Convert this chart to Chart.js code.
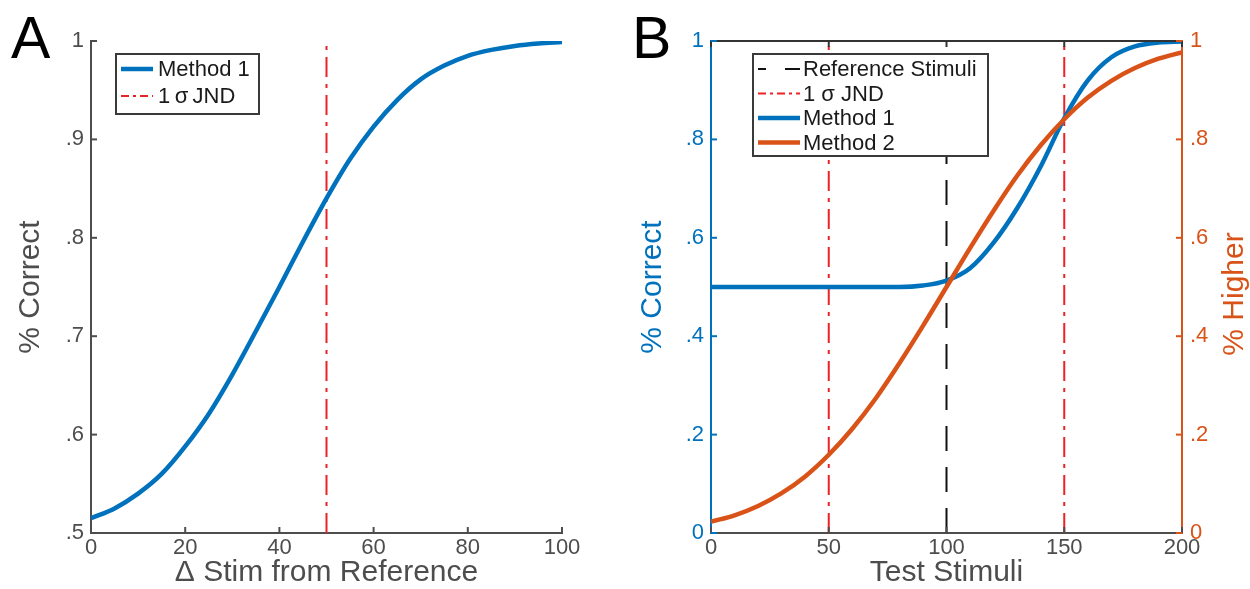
<!DOCTYPE html>
<html>
<head>
<meta charset="utf-8">
<script src="https://cdn.jsdelivr.net/npm/chart.js@4.4.0/dist/chart.umd.min.js"></script>
<style>
  html, body { margin: 0; padding: 0; background: #fff; }
  #wrap { position: relative; width: 1250px; height: 589px; overflow: hidden; }
  .panel { position: absolute; top: 0; width: 625px; height: 589px; }
  .letter { position: absolute; top: 9px; font-size: 59px; line-height: 1; color: #000;
            font-family: "Liberation Sans", Arial, Helvetica, sans-serif; }
</style>
</head>
<body>
<div id="wrap">
  <div class="panel" style="left:0"><canvas id="chartA" width="625" height="589"></canvas></div>
  <div class="panel" style="left:625px"><canvas id="chartB" width="625" height="589"></canvas></div>
  <div class="letter" style="left:11px">A</div>
  <div class="letter" style="left:632px">B</div>
</div>
<script>
// panel A data
const stimA = [0, 5, 10, 15, 20, 25, 30, 35, 40, 45, 50, 55, 60, 65, 70, 75, 80, 85, 90, 95, 100];
const method1A = [0.515, 0.525, 0.540, 0.560, 0.588, 0.621, 0.661, 0.705, 0.750, 0.796, 0.840, 0.880, 0.913, 0.940, 0.961, 0.975, 0.985, 0.991, 0.995, 0.9975, 0.999];
const jndA = [50];
const xTicksA = [0, 20, 40, 60, 80, 100];
const yTicksA = [0.5, 0.6, 0.7, 0.8, 0.9, 1];

// panel B data
const stimB = [0, 10, 20, 30, 40, 50, 60, 70, 80, 90, 100, 110, 120, 130, 140, 150, 160, 170, 180, 190, 200];
const method1B = [0.5, 0.5, 0.5, 0.5, 0.5, 0.5, 0.5, 0.5, 0.5, 0.503, 0.513, 0.538, 0.59, 0.66, 0.745, 0.843, 0.92, 0.967, 0.989, 0.997, 0.999];
const method2B = [0.023, 0.036, 0.055, 0.081, 0.115, 0.159, 0.212, 0.274, 0.345, 0.421, 0.5, 0.579, 0.655, 0.726, 0.788, 0.841, 0.885, 0.919, 0.945, 0.964, 0.977];
const refB = [100];
const jndB = [50, 150];
const xTicksB = [0, 50, 100, 150, 200];
const yTicksB = [0, 0.2, 0.4, 0.6, 0.8, 1];

const FONT = '"Liberation Sans", Arial, Helvetica, sans-serif';
const GRAY = '#4d4d4d';
const BLUE = '#0072bd';
const ORANGE = '#d95319';
const RED = '#ec2227';
const DASHDOT = [20, 7, 4, 7];
const DASHED = [25, 16];

function pts(xs, ys) {
  return xs.map((x, i) => ({ x: x, y: ys[i] }));
}

// vertical lines at each x, split by gaps
function vlines(xs, y0, y1) {
  const out = [];
  xs.forEach((x, i) => {
    if (i > 0) out.push({ x: x, y: null });
    out.push({ x: x, y: y0 }, { x: x, y: y1 });
  });
  return out;
}

function fmt(v) {
  if (v === 0) return '0';
  if (v === 1) return '1';
  return String(v).replace(/^0/, '');
}

function fixedTicks(list) {
  return function(scale) { scale.ticks = list.map(v => ({ value: v })); };
}

// MATLAB style ticks that point into the plot
const inwardTicks = {
  id: 'inwardTicks',
  afterDatasetsDraw(chart, args, opts) {
    const ctx = chart.ctx;
    const a = chart.chartArea;
    const len = 6;
    ctx.save();
    ctx.lineWidth = 2;
    if (opts.topLine) {
      ctx.strokeStyle = opts.topLine;
      ctx.beginPath();
      ctx.moveTo(a.left, a.top);
      ctx.lineTo(a.right, a.top);
      ctx.stroke();
    }
    (opts.sides || []).forEach(s => {
      const scale = chart.scales[s.scale];
      ctx.strokeStyle = s.color;
      scale.ticks.forEach(t => {
        const p = scale.getPixelForValue(t.value);
        ctx.beginPath();
        if (s.edge === 'left') { ctx.moveTo(a.left, p); ctx.lineTo(a.left + len, p); }
        if (s.edge === 'right') { ctx.moveTo(a.right, p); ctx.lineTo(a.right - len, p); }
        if (s.edge === 'bottom') { ctx.moveTo(p, a.bottom); ctx.lineTo(p, a.bottom - len); }
        if (s.edge === 'top') { ctx.moveTo(p, a.top); ctx.lineTo(p, a.top + len); }
        ctx.stroke();
      });
    });
    ctx.restore();
  }
};

// boxed legend, opaque like the matlab one
const boxLegend = {
  id: 'boxLegend',
  afterDraw(chart, args, o) {
    const ctx = chart.ctx;
    ctx.save();
    ctx.fillStyle = '#fff';
    ctx.fillRect(o.x, o.y, o.w, o.h);
    ctx.strokeStyle = '#3a3a3a';
    ctx.lineWidth = 2;
    ctx.strokeRect(o.x, o.y, o.w, o.h);
    ctx.font = '22px ' + FONT;
    ctx.textBaseline = 'middle';
    chart.data.datasets.forEach((ds, i) => {
      const cy = o.y + o.first + i * o.gap;
      ctx.strokeStyle = ds.borderColor;
      ctx.lineWidth = ds.borderWidth;
      ctx.setLineDash(ds.legendDash || []);
      ctx.beginPath();
      ctx.moveTo(o.x + o.l0, cy);
      ctx.lineTo(o.x + o.l1, cy);
      ctx.stroke();
      ctx.setLineDash([]);
      ctx.fillStyle = '#1a1a1a';
      ctx.fillText(ds.label, o.x + o.tx, cy + 1);
    });
    // right axis title reads bottom to top, like the left one
    if (o.rightTitle) {
      const a = chart.chartArea;
      ctx.translate(o.rightTitle.x, (a.top + a.bottom) / 2 + o.rightTitle.dy);
      ctx.rotate(-Math.PI / 2);
      ctx.font = '30px ' + FONT;
      ctx.fillStyle = ORANGE;
      ctx.textAlign = 'center';
      ctx.textBaseline = 'alphabetic';
      ctx.fillText(o.rightTitle.text, 0, 0);
    }
    ctx.restore();
  }
};

const tickFont = { family: FONT, size: 22 };
const titleFont = { family: FONT, size: 30, lineHeight: 1 };

new Chart(document.getElementById('chartA'), {
  type: 'line',
  data: {
    datasets: [
      {
        label: 'Method 1',
        data: pts(stimA, method1A),
        borderColor: BLUE,
        borderWidth: 4.5,
        pointRadius: 0,
        cubicInterpolationMode: 'monotone',
        order: 0
      },
      {
        label: '1\u2009\u03c3\u2009JND',
        data: vlines(jndA, 0.5, 1),
        borderColor: RED,
        borderWidth: 2,
        borderDash: DASHDOT,
        legendDash: [8, 4, 3, 4],
        pointRadius: 0,
        order: 1
      }
    ]
  },
  options: {
    responsive: false,
    animation: false,
    layout: { padding: { top: 41, right: 63, left: 0, bottom: 0 } },
    plugins: {
      legend: { display: false },
      tooltip: { enabled: false },
      inwardTicks: {
        sides: [
          { scale: 'x', edge: 'bottom', color: GRAY },
          { scale: 'y', edge: 'left', color: GRAY }
        ]
      },
      boxLegend: { x: 116, y: 54, w: 143, h: 60, first: 15, gap: 27, l0: 5, l1: 37, tx: 42 }
    },
    scales: {
      x: {
        type: 'linear', min: 0, max: 100,
        afterBuildTicks: fixedTicks(xTicksA),
        afterFit(s) { s.height = 56; },
        grid: { display: false, drawTicks: false },
        border: { display: true, color: GRAY, width: 2 },
        ticks: { font: tickFont, color: GRAY, padding: 2, maxRotation: 0, callback: v => fmt(v) },
        title: { display: true, text: '\u0394 Stim from Reference', font: titleFont, color: GRAY, padding: { top: 0, bottom: 1 } }
      },
      y: {
        type: 'linear', min: 0.5, max: 1,
        afterBuildTicks: fixedTicks(yTicksA),
        afterFit(s) { s.width = 91; },
        grid: { display: false, drawTicks: false },
        border: { display: true, color: GRAY, width: 2 },
        ticks: { font: tickFont, color: GRAY, padding: 7, callback: v => fmt(v) },
        title: { display: true, text: '% Correct', font: titleFont, color: GRAY, padding: { top: 16, bottom: 0 } }
      }
    }
  },
  plugins: [inwardTicks, boxLegend]
});

new Chart(document.getElementById('chartB'), {
  type: 'line',
  data: {
    datasets: [
      {
        label: 'Reference Stimuli',
        data: vlines(refB, 0, 1),
        borderColor: '#111',
        borderWidth: 2,
        borderDash: DASHED,
        legendDash: [8, 19, 15, 0],
        pointRadius: 0,
        order: 3
      },
      {
        label: '1 \u03c3 JND',
        data: vlines(jndB, 0, 1),
        borderColor: RED,
        borderWidth: 2,
        borderDash: DASHDOT,
        legendDash: [8, 4, 3, 4],
        pointRadius: 0,
        order: 2
      },
      {
        label: 'Method 1',
        data: pts(stimB, method1B),
        borderColor: BLUE,
        borderWidth: 4.5,
        pointRadius: 0,
        cubicInterpolationMode: 'monotone',
        order: 1
      },
      {
        label: 'Method 2',
        data: pts(stimB, method2B),
        yAxisID: 'y2',
        borderColor: ORANGE,
        borderWidth: 4.5,
        pointRadius: 0,
        cubicInterpolationMode: 'monotone',
        order: 0
      }
    ]
  },
  options: {
    responsive: false,
    animation: false,
    layout: { padding: { top: 41, right: 0, left: 0, bottom: 0 } },
    plugins: {
      legend: { display: false },
      tooltip: { enabled: false },
      inwardTicks: {
        topLine: '#333',
        sides: [
          { scale: 'x', edge: 'bottom', color: GRAY },
          { scale: 'x', edge: 'top', color: '#333' },
          { scale: 'y', edge: 'left', color: BLUE },
          { scale: 'y2', edge: 'right', color: ORANGE }
        ]
      },
      boxLegend: {
        x: 128, y: 54, w: 235, h: 102, first: 15, gap: 24.5, l0: 5, l1: 47, tx: 50,
        rightTitle: { text: '% Higher', x: 618, dy: 7 }
      }
    },
    scales: {
      x: {
        type: 'linear', min: 0, max: 200,
        afterBuildTicks: fixedTicks(xTicksB),
        afterFit(s) { s.height = 56; },
        grid: { display: false, drawTicks: false },
        border: { display: true, color: GRAY, width: 2 },
        ticks: { font: tickFont, color: GRAY, padding: 2, maxRotation: 0, callback: v => fmt(v) },
        title: { display: true, text: 'Test Stimuli', font: titleFont, color: GRAY, padding: { top: 0, bottom: 1 } }
      },
      y: {
        type: 'linear', min: 0, max: 1,
        afterBuildTicks: fixedTicks(yTicksB),
        afterFit(s) { s.width = 86; },
        grid: { display: false, drawTicks: false },
        border: { display: true, color: BLUE, width: 2 },
        ticks: { font: tickFont, color: BLUE, padding: 7, callback: v => fmt(v) },
        title: { display: true, text: '% Correct', font: titleFont, color: BLUE, padding: { top: 13, bottom: 0 } }
      },
      y2: {
        type: 'linear', position: 'right', min: 0, max: 1,
        afterBuildTicks: fixedTicks(yTicksB),
        afterFit(s) { s.width = 68; },
        grid: { display: false, drawTicks: false },
        border: { display: true, color: ORANGE, width: 2 },
        ticks: { font: tickFont, color: ORANGE, padding: 8, callback: v => fmt(v) },
        title: { display: false }
      }
    }
  },
  plugins: [inwardTicks, boxLegend]
});
</script>
</body>
</html>
